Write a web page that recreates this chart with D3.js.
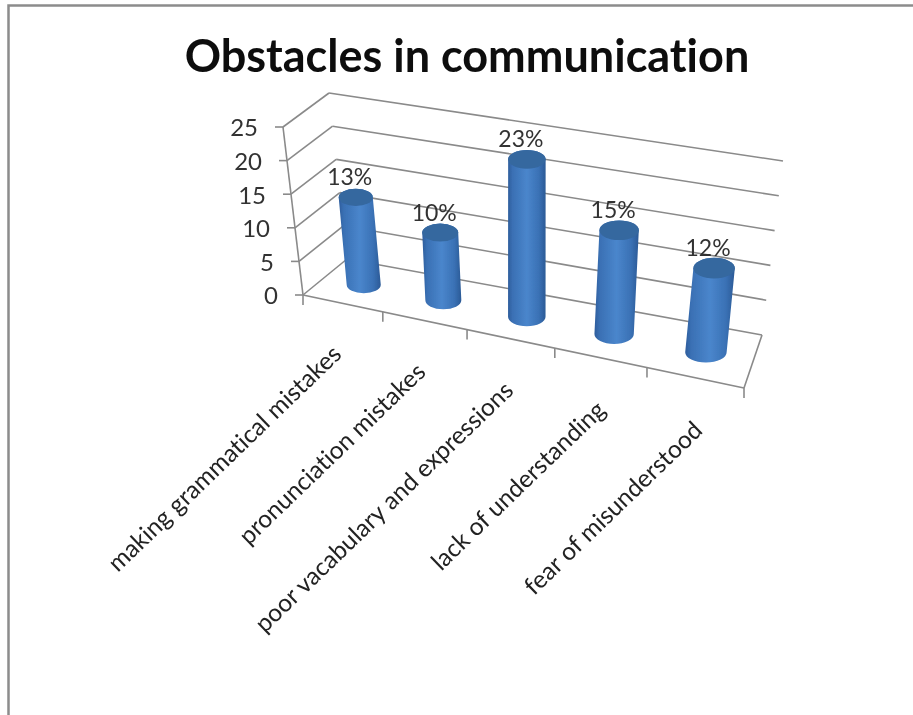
<!DOCTYPE html>
<html><head><meta charset="utf-8">
<script src="https://cdn.jsdelivr.net/npm/d3@7"></script>
<style>html,body{margin:0;padding:0;background:#fff}svg{display:block}text{font-family:Lato,"Open Sans",sans-serif;font-variant-ligatures:none}</style>
</head><body><svg id="c" width="913" height="715"></svg>
<script>
const title = "Obstacles in communication";
const categories = ["making grammatical mistakes","pronunciation mistakes","poor vacabulary and expressions","lack of understanding","fear of misunderstood"];
const values = [13,10,23,15,12];
const valueLabels = ["13%","10%","23%","15%","12%"];
const yTicks = [0,5,10,15,20,25];

const W=913,H=715;
const svg=d3.select("#c");
const defs=svg.append("defs");
const f=defs.append("filter").attr("id","soft").attr("x","-5%").attr("y","-5%").attr("width","110%").attr("height","110%");
f.append("feGaussianBlur").attr("stdDeviation",0.6);
const g=defs.append("linearGradient").attr("id","cyl");
[[0,"#2d5d9c"],[0.12,"#3a70b4"],[0.5,"#4a86cc"],[0.82,"#3a71b5"],[1,"#2b5a96"]].forEach(s=>g.append("stop").attr("offset",s[0]).attr("stop-color",s[1]));

// plot box corners: front/back, left/right, floor/top
const box={fl0:[303,295],fl1:[283,127],bl0:[347,259],bl1:[329,93],br0:[762,335],br1:[783,161],fr0:[744,388],fr1:[766,210]};
// category axis foreshortens with perspective: piecewise scale
const cx=d3.scaleLinear().domain([0,1,2,3,4,5]).range([0,.181,.372,.571,.780,1]);
const vy=d3.scaleLinear().domain([0,25]).range([0,1]);
const lerp=(a,b,t)=>[a[0]+(b[0]-a[0])*t,a[1]+(b[1]-a[1])*t];
function P(cat,val,depth){
  const c=cx(cat),v=vy(val);
  const f0=lerp(box.fl0,box.fr0,c),f1=lerp(box.fl1,box.fr1,c);
  const b0=lerp(box.bl0,box.br0,c),b1=lerp(box.bl1,box.br1,c);
  return lerp(lerp(f0,f1,v),lerp(b0,b1,v),depth);
}
const root=svg.append("g").attr("filter","url(#soft)");
// border
root.append("path").attr("d",`M8.5,${H}V5.5H${W}`).attr("fill","none").attr("stroke","#8c8c8c").attr("stroke-width",2.5);
// title
root.append("text").attr("x",467).attr("y",72).attr("text-anchor","middle").attr("font-size",45).attr("font-weight",700).attr("fill","#0a0a0a").text(title);

const line=(a,b)=>root.append("line").attr("x1",a[0]).attr("y1",a[1]).attr("x2",b[0]).attr("y2",b[1]).attr("stroke","#8a8a8a").attr("stroke-width",1.6);
const n=categories.length;
yTicks.forEach(t=>{
  const a=P(0,t,0),b=P(0,t,1),c=P(n,t,1);
  line(a,b);line(b,c);
  line(a,[a[0]-8,a[1]]);
  root.append("text").attr("x",a[0]-25).attr("y",a[1]+1).attr("dy","0.35em").attr("text-anchor","end").attr("font-size",24).attr("fill","#333").text(t);
});
line(P(0,0,0),P(0,25,0));
line(P(0,0,0),P(n,0,0));
line(P(n,0,0),P(n,0,1));
d3.range(0,n+1).forEach(i=>{const a=P(i,0,0);line(a,[a[0],a[1]+10]);});

// bars
const ryRatio=.5,barFrac=.44;
values.forEach((v,i)=>{
  const B=P(i+.5,0,.5),T=P(i+.5,v,.5);
  const rx=(P(i+1,0,.5)[0]-P(i,0,.5)[0])*barFrac/2,ry=rx*ryRatio;
  root.append("path")
    .attr("d",`M${T[0]-rx},${T[1]}L${B[0]-rx},${B[1]}A${rx},${ry} 0 0 0 ${B[0]+rx},${B[1]}L${T[0]+rx},${T[1]}A${rx},${ry} 0 0 0 ${T[0]-rx},${T[1]}Z`)
    .attr("fill","url(#cyl)");
  root.append("ellipse").attr("cx",T[0]).attr("cy",T[1]).attr("rx",rx).attr("ry",ry).attr("fill","#35679f");
  root.append("text").attr("x",T[0]-6).attr("y",T[1]-20).attr("dy","0.35em").attr("text-anchor","middle").attr("font-size",23).attr("fill","#333").text(valueLabels[i]);
  const a=P(i+1,0,0);
  root.append("text").attr("transform",`translate(${a[0]-40},${a[1]+44}) rotate(-44)`).attr("text-anchor","end").attr("font-size",24.5).attr("fill","#222").text(categories[i]);
});
</script></body></html>
